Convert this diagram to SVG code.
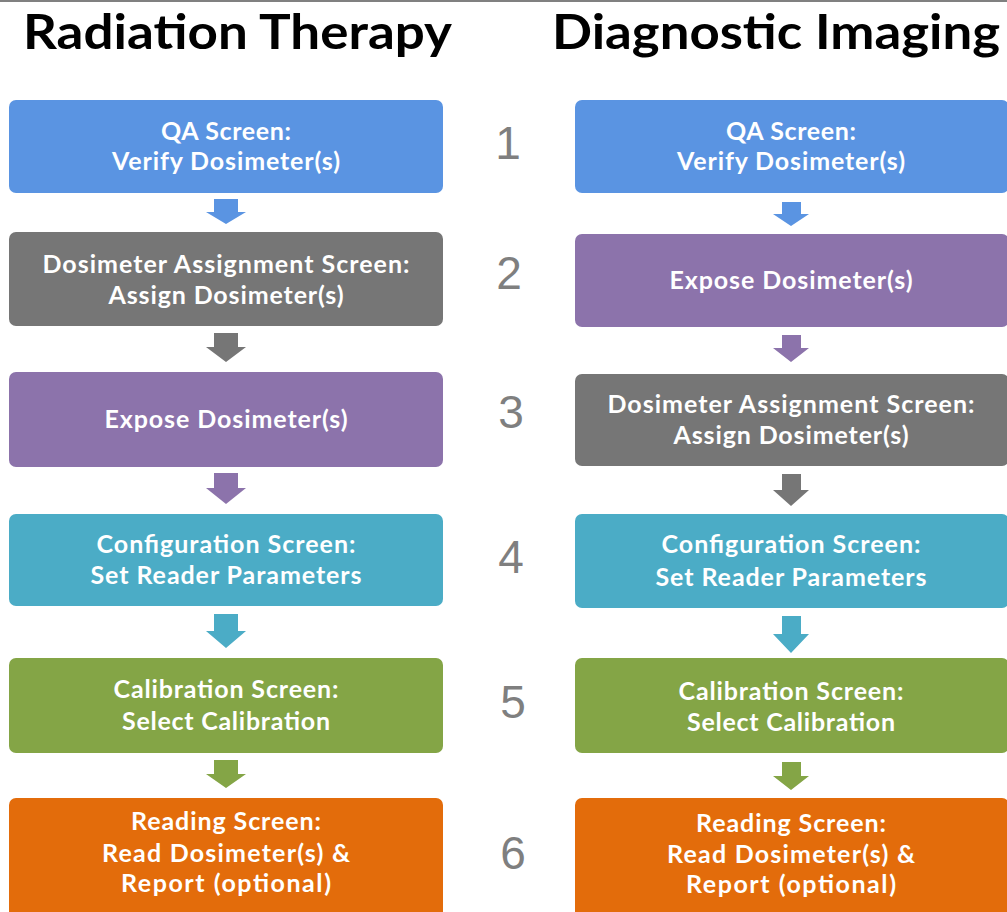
<svg xmlns="http://www.w3.org/2000/svg" width="1007" height="912" viewBox="0 0 1007 912">
<style>
.t{font-family:Lato,"Open Sans","Liberation Sans",sans-serif;font-weight:700;fill:#fff;font-size:25px;text-anchor:middle}
.h{font-family:Lato,"Open Sans","Liberation Sans",sans-serif;font-weight:700;fill:#000;font-size:48px}
.n{font-family:"Liberation Sans",Arial,sans-serif;fill:#7f7f7f;font-size:46px;text-anchor:middle}
.blue{fill:#5A94E2}.gray{fill:#767676}.purple{fill:#8C73AB}.teal{fill:#4BACC6}.green{fill:#84A546}.orange{fill:#E36C0B}
</style>
<rect x="0" y="0" width="1007" height="912" fill="#fff"/>
<rect x="0" y="0" width="1007" height="2" fill="#808080"/>
<g id="headings">
<text class="h" x="23" y="49" textLength="429" lengthAdjust="spacingAndGlyphs">Radiation Therapy</text>
<text class="h" x="552" y="49" textLength="448" lengthAdjust="spacingAndGlyphs">Diagnostic Imaging</text>
</g>
<g id="step-numbers">
<text class="n" x="508" y="159">1</text>
<text class="n" x="509" y="289">2</text>
<text class="n" x="511" y="428">3</text>
<text class="n" x="511" y="573">4</text>
<text class="n" x="513" y="718">5</text>
<text class="n" x="513" y="869">6</text>
</g>
<g id="connectors">
<polygon class="blue" points="214,199 238,199 238,212 246,212 226,224 206,212 214,212"/>
<polygon class="gray" points="214,333 238,333 238,347 246,347 226,362 206,347 214,347"/>
<polygon class="purple" points="214,473 238,473 238,488 246,488 226,504 206,488 214,488"/>
<polygon class="teal" points="214,614 238,614 238,631 246,631 226,648 206,631 214,631"/>
<polygon class="green" points="214,760 238,760 238,774 246,774 226,788 206,774 214,774"/>
<polygon class="blue" points="782,202 801,202 801,214 809,214 791,226 773,214 782,214"/>
<polygon class="purple" points="782,335 801,335 801,348 809,348 791,362 773,348 782,348"/>
<polygon class="gray" points="782,474 801,474 801,490 809,490 791,506 773,490 782,490"/>
<polygon class="teal" points="782,616 801,616 801,634 809,634 791,653 773,634 782,634"/>
<polygon class="green" points="782,762 801,762 801,776 809,776 791,790 773,776 782,776"/>
</g>
<g id="rt-qa"><rect class="blue" x="9" y="100" width="434" height="93" rx="7"/>
<text class="t" x="226" y="140" textLength="130">QA Screen:</text><text class="t" x="226" y="170" textLength="228">Verify Dosimeter(s)</text></g>
<g id="rt-assign"><rect class="gray" x="9" y="232" width="434" height="94" rx="7"/>
<text class="t" x="226" y="273" textLength="367">Dosimeter Assignment Screen:</text><text class="t" x="226" y="304" textLength="235">Assign Dosimeter(s)</text></g>
<g id="rt-expose"><rect class="purple" x="9" y="372" width="434" height="95" rx="7"/>
<text class="t" x="226" y="428" textLength="243">Expose Dosimeter(s)</text></g>
<g id="rt-config"><rect class="teal" x="9" y="514" width="434" height="92" rx="7"/>
<text class="t" x="226" y="553" textLength="259">Configuration Screen:</text><text class="t" x="226" y="584" textLength="271">Set Reader Parameters</text></g>
<g id="rt-calib"><rect class="green" x="9" y="658" width="434" height="95" rx="7"/>
<text class="t" x="226" y="698" textLength="225">Calibration Screen:</text><text class="t" x="226" y="730" textLength="208">Select Calibration</text></g>
<g id="rt-reading"><rect class="orange" x="9" y="798" width="434" height="120" rx="7"/>
<text class="t" x="226" y="830" textLength="190">Reading Screen:</text><text class="t" x="226" y="862" textLength="248">Read Dosimeter(s) &amp;</text><text class="t" x="226" y="892" textLength="210">Report (optional)</text></g>
<g id="di-qa"><rect class="blue" x="575" y="100" width="434" height="93" rx="7"/>
<text class="t" x="791" y="140" textLength="130">QA Screen:</text><text class="t" x="791" y="170" textLength="228">Verify Dosimeter(s)</text></g>
<g id="di-expose"><rect class="purple" x="575" y="234" width="434" height="93" rx="7"/>
<text class="t" x="791" y="289" textLength="243">Expose Dosimeter(s)</text></g>
<g id="di-assign"><rect class="gray" x="575" y="374" width="434" height="92" rx="7"/>
<text class="t" x="791" y="413" textLength="367">Dosimeter Assignment Screen:</text><text class="t" x="791" y="444" textLength="235">Assign Dosimeter(s)</text></g>
<g id="di-config"><rect class="teal" x="575" y="514" width="434" height="94" rx="7"/>
<text class="t" x="791" y="553" textLength="259">Configuration Screen:</text><text class="t" x="791" y="586" textLength="271">Set Reader Parameters</text></g>
<g id="di-calib"><rect class="green" x="575" y="658" width="434" height="95" rx="7"/>
<text class="t" x="791" y="700" textLength="225">Calibration Screen:</text><text class="t" x="791" y="731" textLength="208">Select Calibration</text></g>
<g id="di-reading"><rect class="orange" x="575" y="798" width="434" height="120" rx="7"/>
<text class="t" x="791" y="832" textLength="190">Reading Screen:</text><text class="t" x="791" y="863" textLength="248">Read Dosimeter(s) &amp;</text><text class="t" x="791" y="893" textLength="210">Report (optional)</text></g>
</svg>
